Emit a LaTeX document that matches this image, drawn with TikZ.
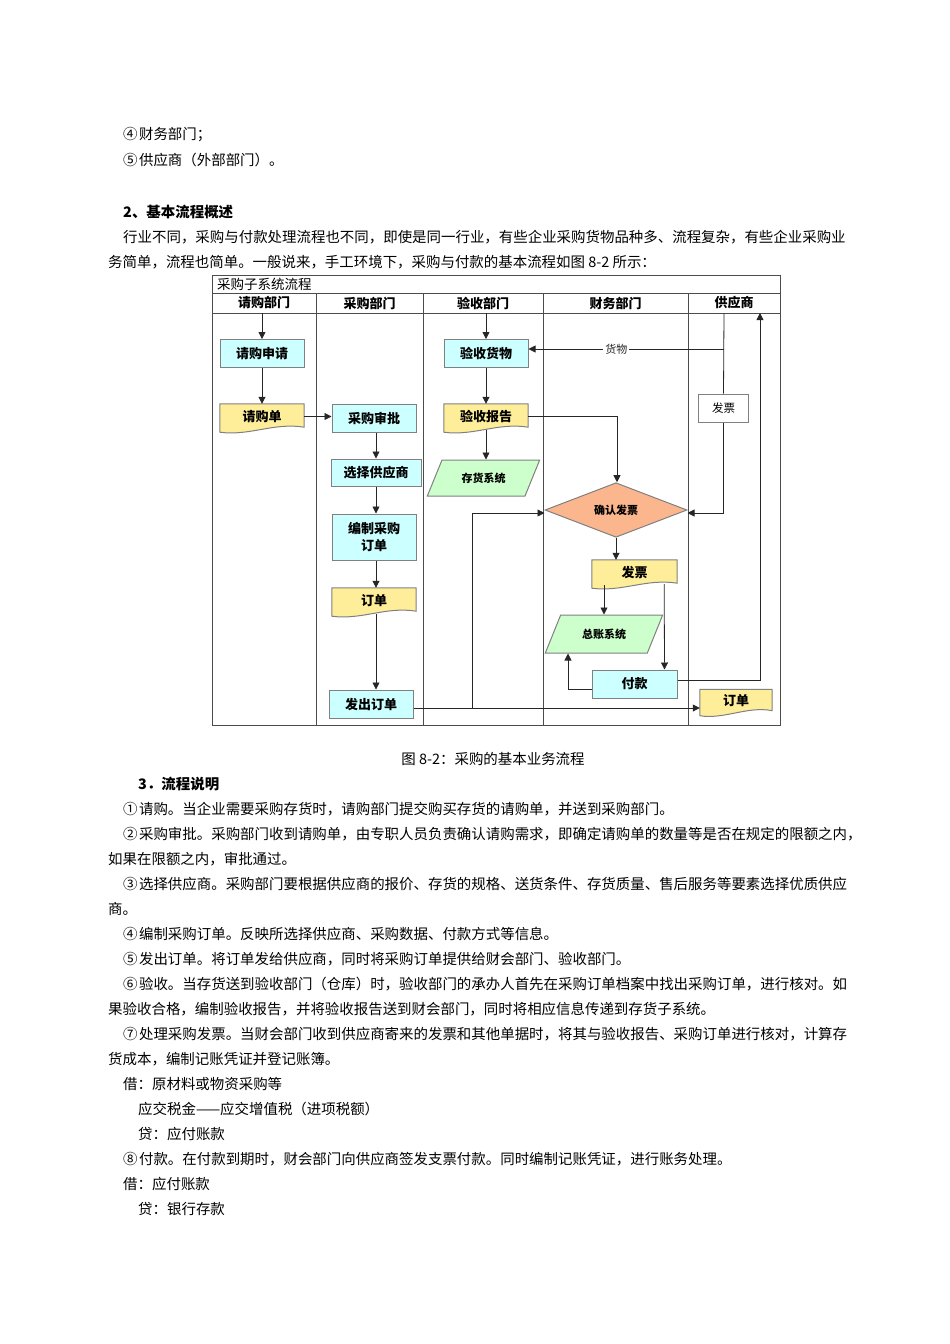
\documentclass[tikz,border=0pt]{standalone}
\usepackage{fontspec}
\setmainfont{Noto Sans CJK SC}
\usetikzlibrary{arrows.meta,shapes.geometric,positioning,calc,backgrounds}

\definecolor{procblue}{HTML}{CCFFFF}
\definecolor{docyellow}{HTML}{FFEE99}
\definecolor{sysgreen}{HTML}{CCFFCC}
\definecolor{decorange}{HTML}{FBB68E}
\definecolor{edgegray}{HTML}{808080}

% wavy bottom of a document node
\newcommand{\docwave}[1]{%
  \begin{pgfonlayer}{background}
  \filldraw[fill=docyellow, draw=edgegray, line width=1pt] (#1.north west) -- (#1.north east)
    -- ($(#1.south east)+(0,-2)$) .. controls ($(#1.south)+(12,-7)$) and ($(#1.south)+(-12,7)$) .. ($(#1.south west)+(0,3)$) -- cycle;
  \end{pgfonlayer}}
% full-width circled number
\newcommand{\circnum}[1]{\makebox[1.1em][l]{#1}}

\begin{document}
\begin{tikzpicture}[x=1pt, y=-1pt,
    txt/.style={anchor=west, inner sep=0pt, font=\fontsize{14.45}{16}\selectfont},
    hdtxt/.style={txt, font=\fontsize{14.45}{16}\selectfont\bfseries},
    proc/.style={draw=edgegray, line width=1pt, fill=procblue, minimum width=84, minimum height=28, inner sep=1pt, align=center, font=\fontsize{13}{17}\selectfont\bfseries},
    doc/.style={minimum width=84, minimum height=25, inner sep=1pt, font=\fontsize{13}{15}\selectfont\bfseries},
    sys/.style={draw=edgegray, line width=1pt, fill=sysgreen, trapezium, trapezium left angle=54, trapezium right angle=126, trapezium stretches=true, minimum width=113, minimum height=36, inner sep=0pt, font=\fontsize{11}{13}\selectfont\bfseries},
    dec/.style={draw=edgegray, line width=1pt, fill=decorange, diamond, minimum width=142, minimum height=46, inner sep=0pt, font=\fontsize{11}{13}\selectfont\bfseries},
    lane/.style={font=\fontsize{13}{15}\selectfont\bfseries},
    arr/.style={-{Triangle[length=7pt, width=7pt]}, line width=0.8pt, black!85},
    ln/.style={line width=0.8pt, black!85},
    lbl/.style={fill=white, inner sep=2pt, font=\fontsize{11}{13}\selectfont}
]
\useasboundingbox (0,0) rectangle (950,1344);

% page text above
\node[txt] (a4) at (123,135) {\circnum{④}财务部门；};
\node[txt] (a5) at (123,160) {\circnum{⑤}供应商（外部部门）。};
\node[hdtxt] (h2) at (123,212) {2、基本流程概述};
\node[txt] (p1) at (123,237) {行业不同，采购与付款处理流程也不同，即使是同一行业，有些企业采购货物品种多、流程复杂，有些企业采购业};
\node[txt] (p2) at (108,262) {务简单，流程也简单。一般说来，手工环境下，采购与付款的基本流程如图 8-2 所示：};

% frame and swimlanes
\draw[line width=1pt, black!70] (212,275) rectangle (780,725);
\draw[line width=1pt, black!70] (212,293) -- (780,293);
\draw[line width=1pt, black!70] (212,313) -- (780,313);
\foreach \x in {316,423,543,688}
  \draw[line width=1pt, black!70] (\x,293) -- (\x,725);
\node[anchor=west, inner sep=0pt, font=\fontsize{13.5}{15}\selectfont] (ttl) at (217,284) {采购子系统流程};
\node[lane] (l1) at (264,303) {请购部门};
\node[lane] (l2) at (369.5,303) {采购部门};
\node[lane] (l3) at (483,303) {验收部门};
\node[lane] (l4) at (615.5,303) {财务部门};
\node[lane] (l5) at (734,303) {供应商};

% nodes
\node[proc] (qgsq) at (262,353.5) {请购申请};
\node[doc] (qgd) at (262,416.5) {请购单}; \docwave{qgd}
\node[proc] (cgsp) at (374,418) {采购审批};
\node[proc, minimum width=90, minimum height=27] (xzgys) at (376,472.5) {选择供应商};
\node[proc, minimum height=46] (bzdd) at (374,537) {编制采购\\订单};
\node[doc] (dd) at (374,600.5) {订单}; \docwave{dd}
\node[proc] (fcdd) at (371,704) {发出订单};
\node[proc] (yshw) at (486,353.5) {验收货物};
\node[doc] (ysbg) at (486,416.5) {验收报告}; \docwave{ysbg}
\node[sys] (chxt) at (483.5,478) {存货系统};
\node[dec] (qrfp) at (616,510) {确认发票};
\node[doc, minimum width=85] (fpcw) at (634.5,572.5) {发票}; \docwave{fpcw}
\node[sys, minimum width=118, minimum height=38] (zzxt) at (604,634) {总账系统};
\node[proc, minimum width=85] (fk) at (634.5,684) {付款};
\node[draw=edgegray, line width=1pt, fill=white, minimum width=50, minimum height=28, inner sep=0pt, font=\fontsize{11.5}{13}\selectfont] (fpgys) at (723.5,408) {发票};
\node[doc, minimum width=72, minimum height=23] (ddgys) at (736,701) {订单}; \docwave{ddgys}

\coordinate (s1) at (262,313);
\coordinate (s3) at (486,313);
\coordinate (s5) at (724,313);
\coordinate (s6) at (760,313);
\coordinate (gw) at (724,349);
\coordinate (jA) at (472,708);

% connectors
\draw[arr] (s1) -- (qgsq);
\draw[arr] (qgsq) -- (qgd);
\draw[arr] (qgd.east) -- (qgd.east -| cgsp.west);
\draw[arr] (cgsp.south -| xzgys.north) -- (xzgys);
\draw[arr] (xzgys.south) -- (xzgys.south |- bzdd.north);
\draw[arr] (bzdd.south -| xzgys.south) -- (dd.north -| xzgys.south);
\draw[arr] ($(dd.south -| xzgys.south)+(0,1)$) -- (fcdd.north -| xzgys.south);
\draw[arr] (s3) -- (yshw);
\draw[arr] (yshw) -- (ysbg);
\draw[arr] ($(ysbg.south)+(0,1)$) -- (ysbg.south |- chxt.north);
\draw[arr] (ysbg.east) -| ($(qrfp.north)+(1,0)$);
\draw[ln] (s5) -- (fpgys.north);
\draw[arr] (fpgys.south) |- ($(qrfp.east)+(0,3)$);
\draw[arr] (gw) -- node[lbl, pos=0.55] {货物} (yshw.east |- gw);
\draw[arr] (qrfp.south) -- (qrfp.south |- fpcw.north);
\draw[arr] (zzxt.north |- fpcw.south) -- (zzxt.north);
\draw[arr] ($(fpcw.south east)+(-13,-1)$) -- ($(fk.north east)+(-13,0)$);
\draw[arr] ($(fk.west)+(0,5)$) -| ($(zzxt.south)+(-36,0)$);
\draw[arr] ($(fk.east)+(0,-4)$) -| (s6);
\draw[arr] (fcdd.east |- jA) -- (ddgys.west |- jA);
\draw[arr] (jA) |- ($(qrfp.west)+(0,3)$);

% page text below
\node[font=\fontsize{14.45}{16}\selectfont, inner sep=0pt] (cap) at (493,759) {图 8-2：采购的基本业务流程};
\node[hdtxt] (h3) at (138,784) {3．流程说明};
\node[txt] (s1t) at (123,809) {\circnum{①}请购。当企业需要采购存货时，请购部门提交购买存货的请购单，并送到采购部门。};
\node[txt] (s2t) at (123,834) {\circnum{②}采购审批。采购部门收到请购单，由专职人员负责确认请购需求，即确定请购单的数量等是否在规定的限额之内，};
\node[txt] (s2b) at (108,859) {如果在限额之内，审批通过。};
\node[txt] (s3t) at (123,884) {\circnum{③}选择供应商。采购部门要根据供应商的报价、存货的规格、送货条件、存货质量、售后服务等要素选择优质供应};
\node[txt] (s3b) at (108,909) {商。};
\node[txt] (s4t) at (123,934) {\circnum{④}编制采购订单。反映所选择供应商、采购数据、付款方式等信息。};
\node[txt] (s5t) at (123,959) {\circnum{⑤}发出订单。将订单发给供应商，同时将采购订单提供给财会部门、验收部门。};
\node[txt] (s6t) at (123,984) {\circnum{⑥}验收。当存货送到验收部门（仓库）时，验收部门的承办人首先在采购订单档案中找出采购订单，进行核对。如};
\node[txt] (s6b) at (108,1009) {果验收合格，编制验收报告，并将验收报告送到财会部门，同时将相应信息传递到存货子系统。};
\node[txt] (s7t) at (123,1034) {\circnum{⑦}处理采购发票。当财会部门收到供应商寄来的发票和其他单据时，将其与验收报告、采购订单进行核对，计算存};
\node[txt] (s7b) at (108,1059) {货成本，编制记账凭证并登记账簿。};
\node[txt] (j1) at (123,1084) {借：原材料或物资采购等};
\node[txt] (j2) at (138,1109) {应交税金——应交增值税（进项税额）};
\node[txt] (j3) at (138,1134) {贷：应付账款};
\node[txt] (s8t) at (123,1159) {\circnum{⑧}付款。在付款到期时，财会部门向供应商签发支票付款。同时编制记账凭证，进行账务处理。};
\node[txt] (j4) at (123,1184) {借：应付账款};
\node[txt] (j5) at (138,1209) {贷：银行存款};
\end{tikzpicture}
\end{document}
